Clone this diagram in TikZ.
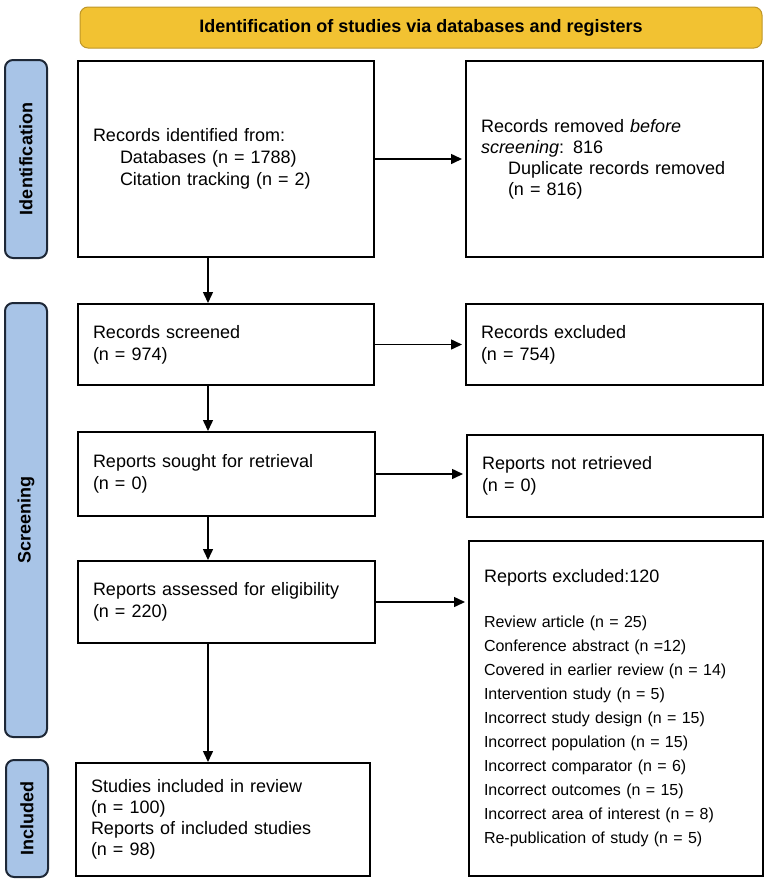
\documentclass[tikz,border=0pt]{standalone}
\usepackage{fontspec}
\setmainfont{Liberation Sans}
\usetikzlibrary{arrows.meta}
\definecolor{bannergold}{RGB}{242,194,50}
\definecolor{bannerline}{RGB}{190,150,40}
\definecolor{stageblue}{RGB}{168,196,231}
\definecolor{stageline}{RGB}{30,40,55}
\tikzset{
  box/.style={draw, line width=2pt, anchor=north west, align=left, inner xsep=15pt, inner ysep=0pt, font=\fontsize{18}{22}\selectfont},
  stage/.style={draw=stageline, fill=stageblue, line width=2pt, rounded corners=8pt, rotate=90, inner sep=0pt, minimum height=42pt, font=\bfseries\fontsize{18}{22}\selectfont}
}

\begin{document}
\begin{tikzpicture}[x=1pt, y=-1pt, >={Triangle[length=11pt,width=10pt]}, line width=1.5pt]
\useasboundingbox (0,0) rectangle (765,884);
% header and stages
\node[draw=bannerline, fill=bannergold, rounded corners=8pt, line width=1pt, minimum width=682pt, minimum height=41pt, font=\bfseries\fontsize{18}{22}\selectfont] (banner) at (421,27.5) {Identification of studies via databases and registers};
\node[stage, minimum width=198pt] (sideident) at (26,159) {Identification};
\node[stage, minimum width=434pt] (sidescreen) at (26,520) {Screening};
\node[stage, minimum width=117pt] (sideincl) at (27,818.5) {Included};
% boxes
\node[box, text width=266pt, minimum height=196pt] (identified) at (77,60) {Records identified from:\\ \hspace*{27pt}Databases (n = 1788)\\ \hspace*{27pt}Citation tracking (n = 2)};
\node[box, text width=267pt, minimum height=196pt, font=\fontsize{18}{21}\selectfont] (removed) at (465,60) {Records removed \textit{before}\\ \textit{screening}: 816\\ \hspace*{27pt}Duplicate records removed\\ \hspace*{27pt}(n = 816)};
\node[box, text width=266pt, minimum height=81pt] (screened) at (77,303) {Records screened\\ (n = 974)};
\node[box, text width=267pt, minimum height=81pt] (excluded) at (465,303) {Records excluded\\ (n = 754)};
\node[box, text width=267pt, minimum height=84pt] (sought) at (77,431) {Reports sought for retrieval\\ (n = 0)};
\node[box, text width=266pt, minimum height=82pt] (notretr) at (466,434) {Reports not retrieved\\ (n = 0)};
\node[box, text width=267pt, minimum height=82pt] (assessed) at (77,560) {Reports assessed for eligibility\\ (n = 220)};
\node[box, text width=264pt, minimum height=335pt, font=\fontsize{16}{24}\selectfont] (reasons) at (468,540) {{\fontsize{18}{24}\selectfont Reports excluded:120}\\[21pt]
Review article (n = 25)\\ Conference abstract (n =12)\\ Covered in earlier review (n = 14)\\ Intervention study (n = 5)\\
Incorrect study design (n = 15)\\ Incorrect population (n = 15)\\ Incorrect comparator (n = 6)\\ Incorrect outcomes (n = 15)\\
Incorrect area of interest (n = 8)\\ Re-publication of study (n = 5)};
\node[box, text width=264pt, minimum height=113pt, font=\fontsize{18}{21}\selectfont] (included) at (75,762) {Studies included in review\\ (n = 100)\\ Reports of included studies\\ (n = 98)};
% arrows
\coordinate (spine) at (208,0);
\foreach \a/\b in {identified/screened, screened/sought, sought/assessed, assessed/included}
	\draw[->] (\a.south -| spine) -- (\b.north -| spine);
\foreach \a/\b in {identified/removed, screened/excluded, sought/notretr, assessed/reasons}
	\draw[->, shorten >=3pt] (\a.east) -- (\a.east -| \b.west);
\end{tikzpicture}
\end{document}
